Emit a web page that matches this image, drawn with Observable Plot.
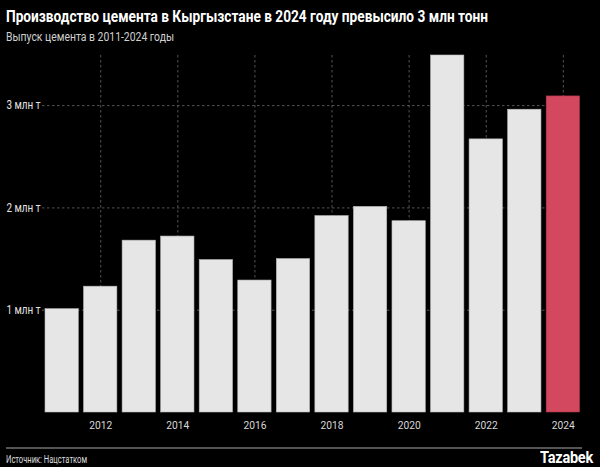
<!DOCTYPE html>
<html>
<head>
<meta charset="utf-8">
<script src="https://cdn.jsdelivr.net/npm/d3@7"></script>
<script src="https://cdn.jsdelivr.net/npm/@observablehq/plot@0.6"></script>
<style>
  html, body { margin: 0; padding: 0; background: #000; }
  body { width: 600px; height: 467px; position: relative; overflow: hidden; font-family: "Roboto", "Liberation Sans", sans-serif; }
  .fit { transform-origin: 0 50%; }
  #title { position: absolute; left: 6px; top: 7px; color: #fff; font-weight: bold; font-size: 16px; white-space: nowrap; }
  #subtitle { position: absolute; left: 6px; top: 29px; color: #d0d0d0; font-size: 12.5px; white-space: nowrap; }
  #chart { position: absolute; left: 0; top: 46px; }
  #rule { position: absolute; left: 6px; top: 447px; width: 576px; height: 2px; background: #555; }
  #source { position: absolute; left: 6px; top: 454px; color: #ddd; font-size: 10px; white-space: nowrap; }
  #logo { position: absolute; left: 540px; top: 447px; color: #fff; font-weight: bold; font-size: 17px; line-height: 20px; white-space: nowrap; letter-spacing: -0.3px; }
</style>
</head>
<body>
<div id="title" class="fit">Производство цемента в Кыргызстане в 2024 году превысило 3 млн тонн</div>
<div id="subtitle" class="fit">Выпуск цемента в 2011-2024 годы</div>
<div id="chart"></div>
<div id="rule"></div>
<div id="source" class="fit">Источник: Нацстатком</div>
<div id="logo" class="fit">Tazabek</div>
<script>
const years = [2011, 2012, 2013, 2014, 2015, 2016, 2017, 2018, 2019, 2020, 2021, 2022, 2023, 2024];
const output = [1.01, 1.23, 1.68, 1.72, 1.49, 1.29, 1.50, 1.92, 2.01, 1.87, 3.49, 2.67, 2.96, 3.09];
const xTicks = [2012, 2014, 2016, 2018, 2020, 2022, 2024];
const yTicks = [1, 2, 3];
const yTickLabels = ["1 млн т", "2 млн т", "3 млн т"];
const highlightYear = 2024;

const data = years.map((y, i) => ({year: y, value: output[i]}));

const chart = Plot.plot({
  width: 600,
  height: 394,
  marginLeft: 42,
  marginRight: 20.5,
  marginTop: 9,
  marginBottom: 28,
  style: {background: "transparent", color: "#d0d0d0", fontFamily: "Roboto, 'Liberation Sans', sans-serif", fontSize: "11px"},
  x: {domain: years, range: [45, 579.5], round: false, paddingInner: 0.136, paddingOuter: 0, label: null},
  y: {domain: [0, 3.49], label: null},
  marks: [
    Plot.gridX(xTicks, {stroke: "#6a6a6a", strokeOpacity: 1, strokeDasharray: "2.5,2.5", strokeWidth: 0.8}),
    Plot.gridY(yTicks, {stroke: "#6a6a6a", strokeOpacity: 1, strokeDasharray: "2.5,2.5", strokeWidth: 0.8}),
    Plot.barY(data, {x: "year", y: "value", fill: d => d.year === highlightYear ? "#d3485f" : "#e6e6e6", stroke: d => d.year === highlightYear ? "#a83a4c" : "#b8b8b8", strokeWidth: 0.6}),
    Plot.axisX(xTicks, {tickSize: 0, tickPadding: 9, tickFormat: d => String(d), fill: "#d8d8d8", fontSize: 11}),
    Plot.axisY(yTicks, {tickSize: 0, tickPadding: 0, textAnchor: "start", dx: -36, tickFormat: (d) => yTickLabels[yTicks.indexOf(d)], fill: "#e4e4e4", fontSize: 12})
  ]
});
document.getElementById("chart").appendChild(chart);

// horizontally condense text to match the narrow typeface of the original
function fitWidth(id, target) {
  const el = document.getElementById(id);
  const w = el.getBoundingClientRect().width;
  if (w > 0) el.style.transform = `scaleX(${target / w})`;
}
fitWidth("title", 482);
fitWidth("subtitle", 168);
fitWidth("source", 81);
fitWidth("logo", 53);
chart.querySelectorAll("g[aria-label='y-axis tick label'] text").forEach(t => {
  t.setAttribute("textLength", 34);
  t.setAttribute("lengthAdjust", "spacingAndGlyphs");
});
chart.querySelectorAll("g[aria-label='x-axis tick label'] text").forEach(t => {
  t.setAttribute("textLength", 23);
  t.setAttribute("lengthAdjust", "spacingAndGlyphs");
});
</script>
</body>
</html>
